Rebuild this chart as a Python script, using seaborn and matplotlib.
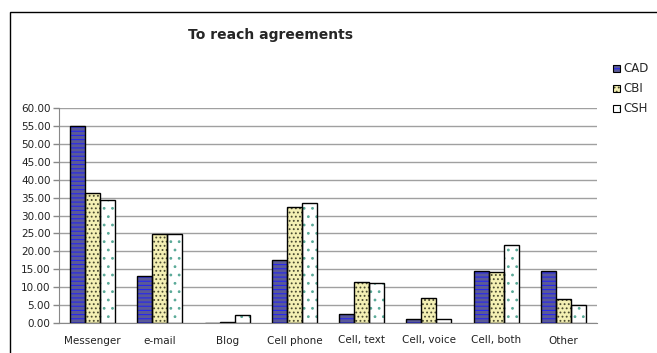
import numpy as np
import pandas as pd
import matplotlib
matplotlib.use("Agg")
import matplotlib.pyplot as plt
import seaborn as sns
from matplotlib.patches import Rectangle

categories = ["Messenger", "e-mail", "Blog", "Cell phone", "Cell, text", "Cell, voice", "Cell, both", "Other"]
series = ["CAD", "CBI", "CSH"]
cad = [55.0, 13.2, 0.0, 17.6, 2.5, 1.0, 14.6, 14.6]
cbi = [36.2, 24.9, 0.3, 32.5, 11.4, 7.1, 14.3, 6.7]
csh = [34.2, 24.7, 2.1, 33.5, 11.2, 1.0, 21.7, 5.0]
yticks = [0, 5, 10, 15, 20, 25, 30, 35, 40, 45, 50, 55, 60]
title = "To reach agreements"

df = pd.DataFrame({
    "category": categories * 3,
    "series": [s for s in series for _ in categories],
    "value": cad + cbi + csh,
})

sns.set_style("white")
plt.rcParams["font.family"] = ["DejaVu Sans"]
plt.rcParams["hatch.linewidth"] = 0.8

W, H = 657, 353
fig = plt.figure(figsize=(W / 100, H / 100), dpi=100)
ax = fig.add_axes([59 / W, 1 - 323 / H, (597 - 59) / W, (323 - 108) / H])

styles = {
    "CAD": dict(face="#5a5a96", hatch="----", hcol="#2626f0"),
    "CBI": dict(face="#f4f0b4", hatch="....", hcol="#4a4a30"),
    "CSH": dict(face="#ffffff", hatch="..", hcol="#5aaa98"),
}

sns.barplot(data=df, x="category", y="value", hue="series", order=categories,
            hue_order=series, width=0.67, ax=ax, legend=False, errorbar=None)

for cont, s in zip(ax.containers, series):
    st = styles[s]
    for p in cont:
        p.set_facecolor(st["face"])
        p.set_hatch(st["hatch"])
        p.set_edgecolor(st["hcol"])
        p.set_linewidth(0)
        ax.add_patch(Rectangle((p.get_x(), p.get_y()), p.get_width(), p.get_height(),
                               fill=False, edgecolor="black", linewidth=1.0, zorder=p.get_zorder() + 0.1))

ax.set_ylim(0, 60)
ax.set_xlim(-0.5, len(categories) - 0.5)
ax.set_yticks(yticks)
ax.set_yticklabels([f"{v:.2f}" for v in yticks], fontsize=7.5, color="#222222")
ax.set_xticklabels(categories, fontsize=7.5, color="#222222")
ax.set_xticks(np.arange(-0.5, len(categories), 1), minor=True)
ax.tick_params(axis="x", which="major", length=0, pad=9)
ax.tick_params(axis="x", which="minor", length=4, color="#888888", width=1, direction="out")
ax.tick_params(axis="y", length=4, color="#888888", width=1, direction="out", pad=2, left=True)
ax.yaxis.grid(True, color="#a0a0a0", linewidth=1)
ax.set_axisbelow(True)
for side in ["top", "right"]:
    ax.spines[side].set_visible(False)
ax.spines["left"].set_color("#888888")
ax.spines["bottom"].set_color("#888888")
ax.set_xlabel("")
ax.set_ylabel("")

fig.text(270 / W, 1 - 35 / H, title, ha="center", va="center", fontsize=10, fontweight="bold")

fig.patches.append(Rectangle((9.5 / W, -0.1), 1.2, (H - 12) / H + 0.1, transform=fig.transFigure,
                             fill=False, edgecolor="black", linewidth=1.0, figure=fig))

for s, ypx in zip(series, [68, 88, 108]):
    st = styles[s]
    fig.patches.append(Rectangle((613 / W, 1 - (ypx + 3.5) / H), 7 / W, 7 / H, transform=fig.transFigure,
                                 facecolor=st["face"], hatch=st["hatch"],
                                 edgecolor=st["hcol"], linewidth=0, figure=fig))
    fig.patches.append(Rectangle((613 / W, 1 - (ypx + 3.5) / H), 7 / W, 7 / H, transform=fig.transFigure,
                                 fill=False, edgecolor="black", linewidth=0.8, figure=fig))
    fig.text(623 / W, 1 - ypx / H, s, ha="left", va="center", fontsize=8.5)

fig.savefig("out.png", dpi=100)
